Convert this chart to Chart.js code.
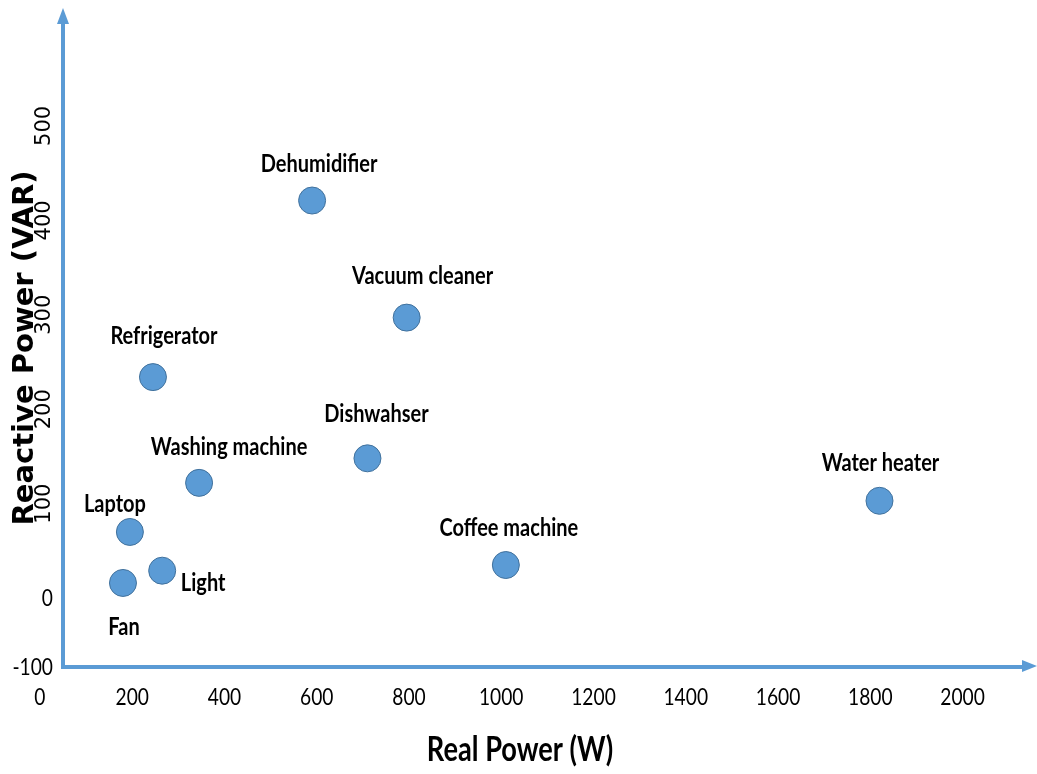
<!DOCTYPE html>
<html>
<head>
<meta charset="utf-8">
<script src="https://cdn.jsdelivr.net/npm/chart.js@4.4.1/dist/chart.umd.min.js"></script>
<style>
  html, body { margin: 0; padding: 0; background: #fff; }
  #wrap { width: 1037px; height: 774px; }
</style>
</head>
<body>
<div id="wrap"><canvas id="chart" width="1037" height="774"></canvas></div>
<script>
// Appliance signatures: real vs reactive power
const APPLIANCES = ['Dehumidifier', 'Vacuum cleaner', 'Refrigerator', 'Dishwahser', 'Washing machine',
  'Water heater', 'Laptop', 'Coffee machine', 'Light', 'Fan'];
const REAL_POWER = [590, 795, 245, 710, 345, 1820, 195, 1010, 265, 180];
const REACTIVE_POWER = [421, 297, 234, 148, 122, 103, 70, 35, 29, 16];

const X_TICKS = [0, 200, 400, 600, 800, 1000, 1200, 1400, 1600, 1800, 2000];
const Y_TICKS = [-100, 0, 100, 200, 300, 400, 500];
const X_TITLE = 'Real Power (W)';
const Y_TITLE = 'Reactive Power (VAR)';

// where each name sits relative to its point (px)
const LABEL_OFFSETS = [[7, -37], [16, -42], [11, -41], [9, -44], [30, -36], [1, -38], [-15, -28], [3, -37], [41, 12], [1, 44]];

const BLUE = '#5B9BD5';
const SQUEEZE = 0.8; // the reference text looks horizontally squashed

function squeezedText(ctx, text, x, y, sx) {
  ctx.save();
  ctx.translate(x, y);
  ctx.scale(sx, 1);
  ctx.fillText(text, 0, 0);
  ctx.restore();
}

const axesPlugin = {
  id: 'arrowAxes',
  beforeDatasetsDraw(chart) {
    const { ctx, chartArea: a } = chart;
    ctx.save();
    ctx.strokeStyle = BLUE;
    ctx.fillStyle = BLUE;
    ctx.lineWidth = 4;
    ctx.beginPath();
    ctx.moveTo(a.left, 22);
    ctx.lineTo(a.left, a.bottom);
    ctx.lineTo(1024, a.bottom);
    ctx.stroke();
    // arrow heads
    ctx.beginPath();
    ctx.moveTo(a.left, 8);
    ctx.lineTo(a.left - 6, 24);
    ctx.lineTo(a.left + 6, 24);
    ctx.closePath();
    ctx.fill();
    ctx.beginPath();
    ctx.moveTo(1037, a.bottom - 1);
    ctx.lineTo(1022, a.bottom - 7);
    ctx.lineTo(1022, a.bottom + 5);
    ctx.closePath();
    ctx.fill();
    ctx.restore();
  },
  afterDraw(chart) {
    const { ctx, chartArea: a } = chart;
    const xs = chart.scales.x;
    const ys = chart.scales.y;
    ctx.save();
    ctx.fillStyle = '#000';
    ctx.textAlign = 'center';
    ctx.textBaseline = 'middle';

    ctx.font = '24px Lato';
    X_TICKS.forEach((v) => squeezedText(ctx, String(v), xs.getPixelForValue(v), 697, SQUEEZE));

    Y_TICKS.forEach((v) => {
      const py = Math.min(ys.getPixelForValue(v), a.bottom);
      if (v <= 0) {
        ctx.font = '24px Lato';
        ctx.textAlign = 'right';
        squeezedText(ctx, String(v), 53, py, SQUEEZE);
        ctx.textAlign = 'center';
      } else {
        ctx.font = '21px "DejaVu Sans"';
        ctx.save();
        ctx.translate(45, py);
        ctx.rotate(-Math.PI / 2);
        ctx.fillText(String(v), 0, 0);
        ctx.restore();
      }
    });

    ctx.font = 'bold 34px Lato';
    squeezedText(ctx, X_TITLE, 520, 750, SQUEEZE);

    ctx.font = 'bold 29px "DejaVu Sans"';
    ctx.save();
    ctx.translate(25, 348);
    ctx.rotate(-Math.PI / 2);
    ctx.fillText(Y_TITLE, 0, 0);
    ctx.restore();
    ctx.restore();
  },
  afterDatasetsDraw(chart) {
    const { ctx } = chart;
    const pts = chart.getDatasetMeta(0).data;
    ctx.save();
    ctx.fillStyle = '#000';
    ctx.textAlign = 'center';
    ctx.textBaseline = 'middle';
    ctx.font = 'bold 25px Lato';
    pts.forEach((p, i) => {
      const [dx, dy] = LABEL_OFFSETS[i];
      squeezedText(ctx, APPLIANCES[i], p.x + dx, p.y + dy, SQUEEZE);
    });
    ctx.restore();
  }
};

new Chart(document.getElementById('chart'), {
  type: 'scatter',
  data: {
    datasets: [{
      label: 'Appliances',
      data: REAL_POWER.map((x, i) => ({ x, y: REACTIVE_POWER[i] })),
      backgroundColor: BLUE,
      borderColor: '#41719C',
      borderWidth: 1,
      pointRadius: 13.5,
      pointHoverRadius: 13.5
    }]
  },
  options: {
    responsive: false,
    animation: false,
    layout: { padding: { left: 63, top: 10, right: 13, bottom: 107 } },
    plugins: { legend: { display: false }, tooltip: { enabled: false } },
    scales: {
      x: { type: 'linear', min: 50, max: 2130, display: false },
      y: { type: 'linear', min: -73, max: 618, display: false }
    }
  },
  plugins: [axesPlugin]
});
</script>
</body>
</html>
